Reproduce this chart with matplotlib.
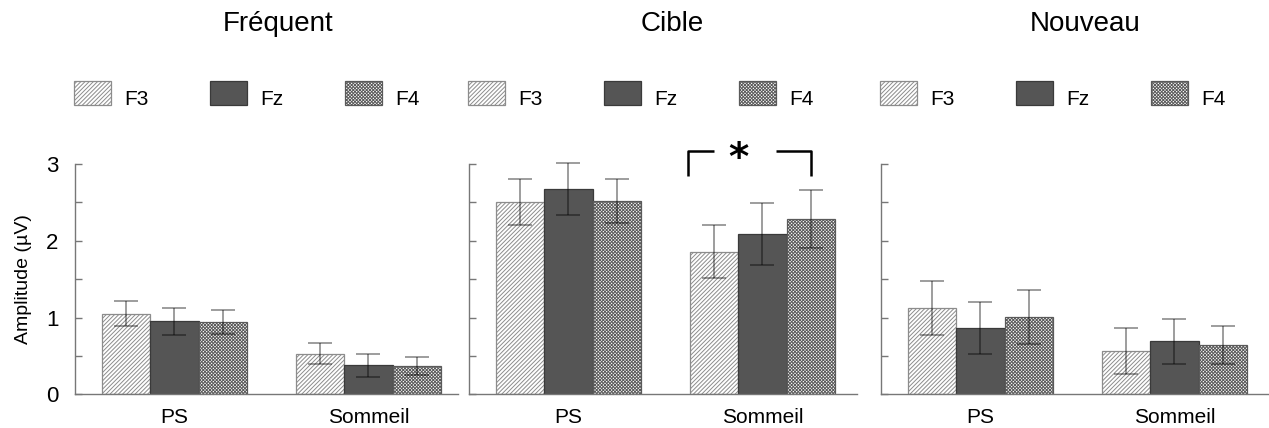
import matplotlib
matplotlib.use("Agg")
import matplotlib.pyplot as plt
from matplotlib.patches import Rectangle
import numpy as np

plt.rcParams['font.family'] = ['Liberation Sans', 'DejaVu Sans']
plt.rcParams['hatch.linewidth'] = 0.7

panels = ["Fréquent", "Cible", "Nouveau"]
conditions = ["PS", "Sommeil"]
electrodes = ["F3", "Fz", "F4"]

# means[condition][electrode] for each panel, with error half-widths
freq_means = [[1.05, 0.95, 0.94], [0.53, 0.38, 0.37]]
freq_err = [[0.16, 0.18, 0.16], [0.14, 0.15, 0.12]]
cible_means = [[2.50, 2.67, 2.52], [1.86, 2.09, 2.28]]
cible_err = [[0.30, 0.34, 0.29], [0.35, 0.40, 0.38]]
nouv_means = [[1.12, 0.86, 1.01], [0.57, 0.69, 0.64]]
nouv_err = [[0.35, 0.34, 0.35], [0.30, 0.29, 0.25]]

all_means = [freq_means, cible_means, nouv_means]
all_err = [freq_err, cible_err, nouv_err]

styles = [
    dict(facecolor="white", edgecolor="#8c8c8c", hatch="////////"),
    dict(facecolor="#555555", edgecolor="#3a3a3a", hatch=None),
    dict(facecolor="white", edgecolor="#5a5a5a", hatch="xxxxxxxxxx"),
]

W, H = 1269, 428
fig = plt.figure(figsize=(W / 100, H / 100), dpi=100)

ax_px = [(75, 458), (469, 857), (881, 1269)]
xlims = [(-2.05, 5.85), (-2.05, 5.95), (-2.05, 5.95)]
y0_px, y3_px = 394.3, 164.0
title_x = [278, 672, 1085]

group_pos = np.array([0.0, 4.0])
offsets = np.array([-1.0, 0.0, 1.0])
bw = 1.0

axes = []
for p in range(3):
    l, r = ax_px[p]
    ax = fig.add_axes([l / W, (H - y0_px) / H, (r - l) / W, (y0_px - y3_px) / H])
    axes.append(ax)
    for c in range(2):
        for e in range(3):
            x = group_pos[c] + offsets[e]
            m = all_means[p][c][e]
            ax.bar(x, m, width=bw, linewidth=0.9, **styles[e], zorder=2)
            ax.errorbar(x, m, yerr=all_err[p][c][e], fmt="none", ecolor="black",
                        alpha=0.45, elinewidth=1.2, capsize=8.5, capthick=1.2,
                        zorder=3, clip_on=False)
    ax.set_xlim(*xlims[p])
    ax.set_ylim(0, 3)
    ax.set_xticks(group_pos)
    ax.set_xticklabels(conditions, fontsize=15)
    ax.tick_params(axis="x", length=0, pad=10)
    ax.set_yticks([0, 1, 2, 3])
    ax.set_yticks([0.5, 1.5, 2.5], minor=True)
    ax.tick_params(axis="y", which="both", direction="in", length=5, width=1,
                   color="#777777", pad=12)
    if p == 0:
        ax.set_yticklabels(["0", "1", "2", "3"], fontsize=16)
        ax.set_ylabel("Amplitude (µV)", fontsize=14, labelpad=10)
    else:
        ax.set_yticklabels([])
    for s in ["top", "right"]:
        ax.spines[s].set_visible(False)
    for s in ["left", "bottom"]:
        ax.spines[s].set_color("#777777")
        ax.spines[s].set_linewidth(1.0)
    ax.set_facecolor("none")

    fig.text(title_x[p] / W, 1 - 24 / H, panels[p], fontsize=20,
             ha="center", va="center")

    patch_off = [-1, 135, 270]
    text_off = [49, 185, 320]
    for e in range(3):
        px = l + patch_off[e]
        rect = Rectangle((px / W, 1 - 105 / H), 37 / W, 24 / H,
                         transform=fig.transFigure, linewidth=0.9,
                         **styles[e])
        fig.add_artist(rect)
        fig.text((l + text_off[e]) / W, 1 - 105 / H, electrodes[e],
                 fontsize=15, ha="left", va="baseline")

# significance bracket on "Cible" Sommeil
ax = axes[1]
x_left = group_pos[1] + offsets[0] - bw / 2 - 0.03
x_right = group_pos[1] + offsets[2]
x_gap_l = group_pos[1] + offsets[0]
x_gap_r = group_pos[1] + offsets[1] + 0.28
y_top, y_leg = 3.17, 2.85
kw = dict(color="black", linewidth=1.8, clip_on=False, solid_capstyle="butt")
ax.plot([x_left, x_left, x_gap_l], [y_leg, y_top, y_top], **kw)
ax.plot([x_gap_r, x_right, x_right], [y_top, y_top, y_leg], **kw)
ax.text(group_pos[1] + offsets[0] + 0.5, 3.06, "*", fontsize=28,
        ha="center", va="center", fontweight="bold", clip_on=False,
        family="DejaVu Sans")

fig.savefig("out.png", dpi=100)
